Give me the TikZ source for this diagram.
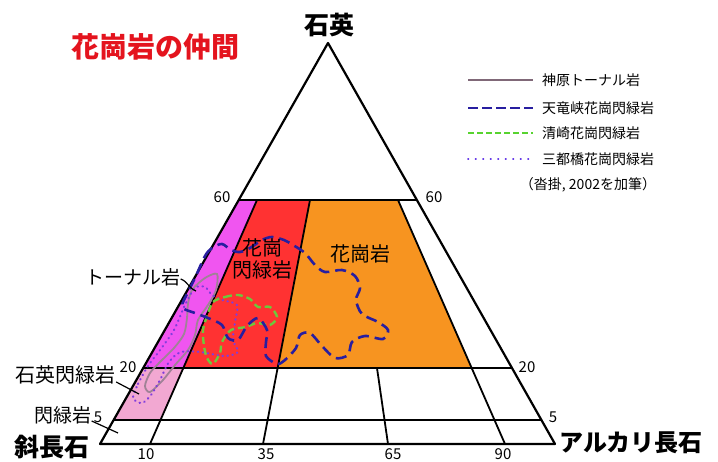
\documentclass[tikz,border=0pt]{standalone}
\usepackage{fontspec}
\setmainfont{Noto Sans CJK JP}
\begin{document}
\begin{tikzpicture}[x=1pt,y=-1pt,
  edge/.style={line width=2.2pt,line join=round},
  grid/.style={line width=1.8pt},
  lbl/.style={inner sep=0pt,font=\fontsize{19}{21}\selectfont},
  num/.style={inner sep=0pt,font=\fontsize{15}{17}\selectfont},
  corner/.style={inner sep=0pt,font=\fontsize{25}{27}\selectfont\bfseries},
  legtxt/.style={inner sep=0pt,anchor=west,font=\fontsize{14}{16}\selectfont},
  tenryu/.style={draw=tenryuC,line width=2.6pt,dash pattern=on 11pt off 6pt},
  kiyo/.style={draw=kiyoC,line width=2.4pt,dash pattern=on 7pt off 4pt},
  mitsu/.style={draw=mitsuC,line width=2.2pt,dash pattern=on 0.5pt off 4.5pt,line cap=round},
  kanbara/.style={draw=kanbaraC,line width=1.8pt},
  leader/.style={line width=1.2pt}]
\definecolor{magentaF}{RGB}{240,85,240}
\definecolor{pinkF}{RGB}{242,168,210}
\definecolor{redF}{RGB}{255,50,50}
\definecolor{orangeF}{RGB}{247,148,32}
\definecolor{tenryuC}{RGB}{40,30,160}
\definecolor{kiyoC}{RGB}{110,200,60}
\definecolor{mitsuC}{RGB}{128,60,220}
\definecolor{kanbaraC}{RGB}{160,130,150}
\definecolor{titleC}{RGB}{228,20,30}
\useasboundingbox (0,0) rectangle (718,462);
\fill[white] (0,0) rectangle (718,462);
% key points
\coordinate (A) at (328,43);
\coordinate (BL) at (100,444);
\coordinate (BR) at (555,444);
\coordinate (L60) at (238.7,200);
\coordinate (R60) at (416.9,200);
\coordinate (L20) at (143.2,368);
\coordinate (R20) at (512,368);
\coordinate (L5) at (113.6,420);
\coordinate (R5) at (541.4,420);
\coordinate (a10) at (150,444);
\coordinate (b10) at (257,200);
\coordinate (c10) at (183.3,368);
\coordinate (d10) at (160.5,420);
\coordinate (a35) at (263,444);
\coordinate (b35) at (310,200);
\coordinate (c35) at (277.6,368);
\coordinate (a65) at (388,444);
\coordinate (b65) at (377,368);
\coordinate (a90) at (505,444);
\coordinate (b90) at (398,200);
\coordinate (c90) at (471.7,368);
% fills
\fill[magentaF] (L60) -- (b10) -- (c10) -- (L20) -- cycle;
\fill[pinkF] (L20) -- (c10) -- (d10) -- (L5) -- cycle;
\fill[redF] (b10) -- (b35) -- (c35) -- (c10) -- cycle;
\fill[orangeF] (b35) -- (b90) -- (c90) -- (c35) -- cycle;
% grid lines
\draw[grid] (L60) -- (R60);
\draw[grid] (L20) -- (R20);
\draw[grid] (L5) -- (R5);
\draw[grid] (a10) -- (b10);
\draw[grid] (a35) -- (b35);
\draw[grid] (a65) -- (b65);
\draw[grid] (a90) -- (b90);
\draw[edge] (BL) -- (A) -- (BR) -- cycle;
% curves
\draw[kanbara] plot[smooth cycle] coordinates {(192,290) (205,278) (217,274) (216,290) (208,305) (198,320) (195,335) (188,350) (175,365) (163,380) (150,392) (145,386) (150,373) (160,362) (174,348) (184,334) (187,318) (188,304)};
\draw[mitsu] plot[smooth cycle] coordinates {(133,398) (138,384) (148,366) (160,350) (174,330) (185,305) (195,288) (205,287) (212,295) (222,300) (237,305) (235,322) (233,340) (238,352) (224,356) (200,352) (181,352) (169,362) (160,380) (151,395) (142,403)};
\draw[kiyo] plot[smooth cycle] coordinates {(213,302) (225,297) (238,295) (250,299) (258,307) (270,307) (277,317) (270,325) (257,323) (246,327) (231,330) (222,342) (220,353) (213,364) (207,358) (204,346) (203,330) (207,316)};
\draw[tenryu] plot[smooth cycle] coordinates {(195,278) (205,256) (212,248) (222,244) (231,250) (240,252) (250,248) (262,240) (272,237) (284,240) (293,245) (305,253) (315,265) (325,272) (342,270) (355,276) (360,288) (356,300) (362,314) (378,322) (388,330) (383,339) (365,336) (352,342) (348,355) (335,358) (322,346) (310,333) (300,335) (296,348) (285,360) (277,364) (266,356) (266,342) (267,330) (258,318) (247,326) (238,340) (228,338) (222,325) (208,318) (195,313) (182,307) (188,292)};
% corner labels
\node[corner] (qz) at (329,25) {石英};
\node[corner] (pl) at (52,447) {斜長石};
\node[corner,font=\fontsize{24}{26}\selectfont\bfseries] (af) at (631,443) {アルカリ長石};
\node[inner sep=0pt,text=titleC,font=\fontsize{28}{30}\selectfont\bfseries] (title) at (155,47) {花崗岩の仲間};
% numbers
\node[num] (n60l) at (222,197) {60};
\node[num] (n60r) at (434,197) {60};
\node[num] (n20l) at (128,367) {20};
\node[num] (n20r) at (527,367) {20};
\node[num] (n5l) at (98,417) {5};
\node[num] (n5r) at (553,417) {5};
\node[num] (n10) at (146,454) {10};
\node[num] (n35) at (266,454) {35};
\node[num] (n65) at (393,454) {65};
\node[num] (n90) at (503,454) {90};
% region labels
\node[lbl,font=\fontsize{20}{24}\selectfont] (gd) at (262,259) {\shortstack{花崗\\閃緑岩}};
\node[lbl,font=\fontsize{20}{22}\selectfont] (gr) at (360,254) {花崗岩};
\node[lbl] (ton) at (133,277) {トーナル岩};
\node[lbl,font=\fontsize{20}{22}\selectfont] (qd) at (66,375) {石英閃緑岩};
\node[lbl] (di) at (63,415) {閃緑岩};
\coordinate (tonpt) at (196,291);
\coordinate (qdpt) at (139,394);
\coordinate (dipt) at (118,433);
\draw[leader] ([yshift=-2pt]ton.east) to[out=-20,in=160] (tonpt);
\draw[leader] ([yshift=-7pt]qd.east) -- (qdpt);
\draw[leader] ([yshift=-6pt]di.east) -- (dipt);
% legend
\coordinate (lg1a) at (468,80); \coordinate (lg1b) at (533,80);
\coordinate (lg2a) at (468,108); \coordinate (lg2b) at (533,108);
\coordinate (lg3a) at (468,133); \coordinate (lg3b) at (533,133);
\coordinate (lg4a) at (468,159); \coordinate (lg4b) at (533,159);
\draw[draw=kanbaraC!80!black,line width=1.8pt] (lg1a) -- (lg1b);
\draw[draw=tenryuC,line width=2.4pt,dash pattern=on 10pt off 4pt] (lg2a) -- (lg2b);
\draw[draw=kiyoC!80!green,line width=2pt,dash pattern=on 6pt off 3pt] (lg3a) -- (lg3b);
\draw[draw=mitsuC!70!blue,line width=1.8pt,dash pattern=on 0.5pt off 7pt,line cap=round] (lg4a) -- (lg4b);
\node[legtxt] (lt1) at (542,80) {神原トーナル岩};
\node[legtxt] (lt2) at (542,108) {天竜峡花崗閃緑岩};
\node[legtxt] (lt3) at (542,133) {清崎花崗閃緑岩};
\node[legtxt] (lt4) at (542,159) {三都橋花崗閃緑岩};
\node[inner sep=0pt,font=\fontsize{14}{16}\selectfont] (note) at (588,185) {（沓掛, 2002を加筆）};
\end{tikzpicture}
\end{document}
